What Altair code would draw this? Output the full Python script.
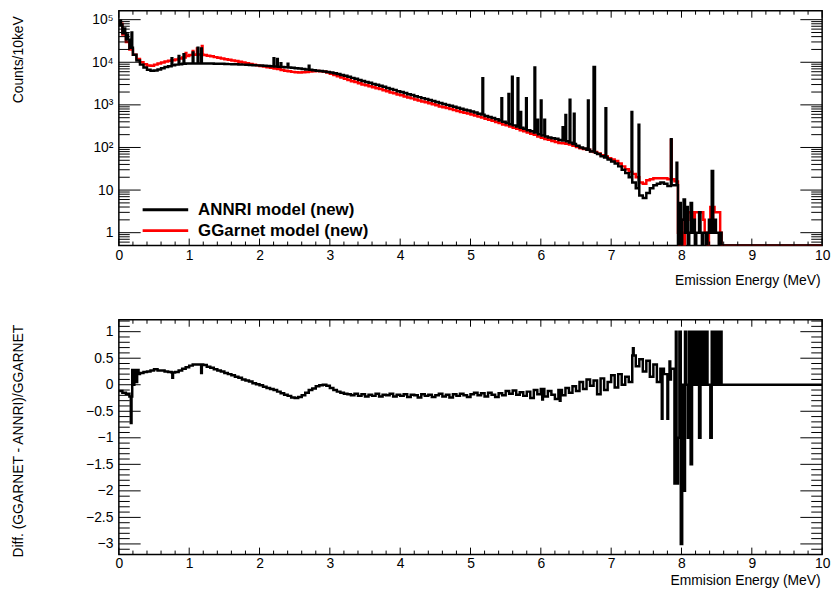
import altair as alt
import numpy as np
import pandas as pd

# ---------------------------------------------------------------------------
# Emission spectra (counts per 10 keV) for two gamma models, and their
# relative difference (GGARNET - ANNRI) / GGARNET.
# Continuum: 0.05 MeV bins from 0 to 7.95 MeV, then 0.02 MeV bins to 8.61 MeV.
# Discrete lines: narrow 10 keV bins laid over the continuum.
# ---------------------------------------------------------------------------
GRID_STEP = 0.05
TAIL_START = 7.95
TAIL_STEP = 0.02
LINE_W = 0.01
X_MAX = 10.0

ANNRI_CONT = [
    75000, 48000, 34000, 22000, 15000, 11000, 8800, 7500, 6700, 6300,
    6400, 6800, 7200, 7700, 8100, 8500, 8800, 9000, 9200, 9300,
    9400, 9400, 9400, 9400, 9350, 9300, 9300, 9250, 9200, 9200,
    9100, 9050, 9000, 8950, 8900, 8800, 8700, 8650, 8550, 8450,
    8350, 8250, 8150, 8050, 7950, 7850, 7750, 7600, 7500, 7400,
    7250, 7100, 6950, 6800, 6650, 6500, 6350, 6200, 6050, 5900,
    5750, 5550, 5300, 5050, 4800, 4550, 4300, 4100, 3850, 3650,
    3450, 3300, 3100, 2950, 2800, 2650, 2500, 2350, 2250, 2100,
    2000, 1900, 1780, 1700, 1600, 1520, 1440, 1370, 1300, 1230,
    1170, 1100, 1050, 1000, 950, 900, 860, 810, 770, 740,
    700, 660, 620, 590, 550, 520, 490, 460, 430, 400,
    375, 350, 330, 310, 290, 275, 255, 240, 225, 205,
    190, 180, 172, 165, 160, 150, 145, 140, 130, 120,
    110, 100, 95, 88, 80, 75, 70, 62, 58, 52,
    47, 42, 36, 30, 25, 20, 15, 11, 7.5, 6.5,
    8.5, 11, 13, 14, 15, 14, 12.5, 13, 13,
]
ANNRI_TAIL = [
    0, 5, 0, 2, 6, 1, 4, 0, 1, 5, 1, 2, 0, 1, 1, 3, 1,
    0, 1, 1, 0, 1, 2, 1, 28, 1, 2, 1, 1, 0, 1, 0, 0,
]
ANNRI_LINES_E = [
    0.02, 0.08, 0.12, 0.18, 0.75, 0.85, 0.92, 1.05, 1.12, 1.17,
    2.20, 2.25, 2.30, 2.40, 2.70, 5.17, 5.44, 5.54, 5.59, 5.67,
    5.71, 5.79, 5.91, 5.95, 6.00, 6.05, 6.31, 6.35, 6.41, 6.47,
    6.67, 6.75, 6.76, 6.92, 7.29, 7.39, 7.85, 7.93,
]
ANNRI_LINES_N = [
    95000, 62000, 45000, 50000, 12500, 14000, 15500, 17000, 22000, 21000,
    12500, 12000, 9500, 9200, 8300, 4200, 1440, 1800, 4600, 4200,
    680, 1440, 7500, 450, 1260, 450, 300, 580, 1320, 620,
    1260, 7800, 7800, 830, 680, 340, 155, 44,
]

GGARNET_CONT = [
    80000, 45000, 30000, 20000, 15000, 12000, 10000, 9000, 8400, 8300,
    8800, 9300, 9900, 10400, 10800, 11200, 11600, 12200, 13000, 14000,
    14800, 15000, 15200, 15200, 14800, 14200, 13800, 13200, 12800, 12300,
    11800, 11400, 11000, 10700, 10300, 9900, 9500, 9100, 8700, 8450,
    8200, 7900, 7650, 7400, 7150, 6900, 6600, 6350, 6150, 5950,
    5800, 5750, 5800, 5900, 6050, 6150, 6200, 6150, 6050, 5750,
    5400, 5000, 4700, 4400, 4100, 3850, 3600, 3450, 3200, 3000,
    2900, 2750, 2600, 2450, 2350, 2200, 2100, 1950, 1880, 1750,
    1680, 1580, 1490, 1420, 1340, 1270, 1200, 1150, 1090, 1030,
    980, 920, 880, 840, 800, 760, 720, 680, 650, 625,
    595, 565, 530, 505, 475, 450, 425, 395, 375, 345,
    330, 310, 290, 275, 255, 240, 225, 210, 198, 180,
    168, 158, 152, 142, 135, 128, 125, 122, 118, 110,
    102, 96, 92, 88, 82, 78, 72, 66, 62, 56,
    52, 48, 42, 36, 31, 27, 24, 20, 15, 14,
    17, 18, 19, 19, 19, 19, 18, 18, 16,
]
GGARNET_TAIL = [
    1, 0, 2, 1, 0, 2, 1, 3, 3, 2, 3, 1, 3, 3, 3, 3, 3,
    3, 2, 1, 1, 0, 1, 4, 2, 4, 3, 3, 3, 3, 1, 0, 0,
]
GGARNET_LINES_E = [0.95, 1.05, 1.11, 1.18, 7.85]
GGARNET_LINES_N = [16500, 18500, 21000, 24000, 150]

DIFF_CONT = [
    -0.12, -0.15, -0.17, -0.22, 0.15, 0.20, 0.22, 0.24, 0.25, 0.27,
    0.29, 0.27, 0.27, 0.25, 0.24, 0.23, 0.24, 0.27, 0.30, 0.33,
    0.36, 0.38, 0.38, 0.38, 0.37, 0.34, 0.32, 0.29, 0.27, 0.25,
    0.22, 0.20, 0.18, 0.15, 0.13, 0.10, 0.08, 0.06, 0.03, 0.01,
    -0.01, -0.04, -0.06, -0.08, -0.10, -0.13, -0.16, -0.19, -0.21, -0.24,
    -0.25, -0.23, -0.20, -0.15, -0.10, -0.07, -0.03, -0.01, 0.00, -0.02,
    -0.06, -0.10, -0.13, -0.15, -0.17, -0.18, -0.20, -0.17, -0.21, -0.18,
    -0.22, -0.19, -0.21, -0.17, -0.22, -0.19, -0.20, -0.17, -0.22, -0.19,
    -0.21, -0.18, -0.23, -0.19, -0.20, -0.24, -0.18, -0.21, -0.19, -0.23,
    -0.20, -0.17, -0.22, -0.19, -0.24, -0.18, -0.21, -0.17, -0.20, -0.23,
    -0.18, -0.15, -0.20, -0.16, -0.22, -0.15, -0.19, -0.23, -0.16, -0.20,
    -0.12, -0.17, -0.11, -0.19, -0.14, -0.21, -0.13, -0.25, -0.10, -0.18,
    -0.08, -0.22, -0.12, -0.19, -0.27, -0.10, -0.20, -0.06, -0.15, -0.03,
    -0.12, 0.05, -0.08, 0.10, -0.02, 0.08, -0.18, 0.12, -0.10, 0.05,
    0.18, -0.05, 0.20, 0.00, 0.15, 0.05, 0.55, 0.35, 0.48, 0.25,
    0.45, 0.15, 0.38, 0.05, 0.30, 0.20, 0.10, 0.30, -1.86,
]
DIFF_TAIL = [
    -1.0, 1.0, -3.0, 0.0, -2.0, 1.0, 0.0, -1.0, 1.0, -1.5, 1.0,
    0.0, 1.0, 0.0, 1.0, -1.0, 1.0, 0.0, 1.0, 0.0, 1.0, 0.0,
    0.0, -1.0, 1.0, 0.0, 1.0, 0.0, 1.0, 0.0, 1.0, 0.0, 0.0,
]
DIFF_LINES_E = [0.17, 0.19, 0.21, 0.23, 0.25, 0.27, 0.76, 1.17, 6.02, 6.27,
                7.31, 7.72, 7.80, 7.83, 7.92]
DIFF_LINES_V = [-0.72, 0.28, 0.00, 0.28, 0.05, 0.28, 0.13, 0.22, -0.28, -0.30,
                0.69, -0.64, -0.64, 0.44, 1.00]

SERIES_NAMES = ["ANNRI model (new)", "GGarnet model (new)"]
X_TITLE_TOP = "Emission Energy (MeV)"
X_TITLE_BOTTOM = "Emmision Energy (MeV)"
Y_TITLE_TOP = "Counts/10keV"
Y_TITLE_BOTTOM = "Diff. (GGARNET - ANNRI)/GGARNET"

# ---------------------------------------------------------------------------
# styling / layout
# ---------------------------------------------------------------------------
W, H = 710, 237
FONT = "Liberation Sans"
BLACK, RED = "#000000", "#ff0000"
Y_LO, Y_HI = 0.5, 1.62e5
D_LO, D_HI = -3.2, 1.224
HIST_W = 2.5

assert len(ANNRI_CONT) == len(GGARNET_CONT) == len(DIFF_CONT) == 159
assert len(ANNRI_TAIL) == len(GGARNET_TAIL) == len(DIFF_TAIL) == 33


def hist_steps(cont, tail, line_e, line_v):
    """Step-after vertices for a histogram with variable bins and line bins."""
    lefts = [round(i * GRID_STEP, 4) for i in range(len(cont))]
    lefts += [round(TAIL_START + i * TAIL_STEP, 4) for i in range(len(tail))]
    contents = list(cont) + list(tail)
    lefts.append(round(TAIL_START + len(tail) * TAIL_STEP, 4))
    contents.append(0.0)
    lefts_a = np.array(lefts)
    contents_a = np.array(contents, dtype=float)
    pts = set(lefts)
    for e in line_e:
        pts.add(round(e, 4))
        pts.add(round(e + LINE_W, 4))
    xs = sorted(pts)
    ys = []
    for x in xs:
        v = contents_a[np.searchsorted(lefts_a, x + 1e-9, side="right") - 1]
        for e, h in zip(line_e, line_v):
            if e - 1e-9 <= x < e + LINE_W - 1e-9:
                v = h
        ys.append(float(v))
    xs.append(X_MAX)
    ys.append(ys[-1])
    return pd.DataFrame({"E": xs, "val": ys})


annri = hist_steps(ANNRI_CONT, ANNRI_TAIL, ANNRI_LINES_E, ANNRI_LINES_N)
ggarnet = hist_steps(GGARNET_CONT, GGARNET_TAIL, GGARNET_LINES_E, GGARNET_LINES_N)
diff = hist_steps(DIFF_CONT, DIFF_TAIL, DIFF_LINES_E, DIFF_LINES_V)

# empty bins sit on the lower edge of the log axis
annri["val"] = np.maximum(annri["val"], Y_LO)
ggarnet["val"] = np.maximum(ggarnet["val"], Y_LO)

XS = alt.Scale(domain=[0, X_MAX], nice=False, zero=False)
YS_LOG = alt.Scale(type="log", domain=[Y_LO, Y_HI], nice=False, clamp=True)
YS_DIFF = alt.Scale(domain=[D_LO, D_HI], nice=False, zero=False)

label_style = dict(labelFont=FONT, labelFontSize=14, labelColor="black",
                   labelFlush=False, labelOverlap=False)
title_style = dict(titleFont=FONT, titleFontSize=14, titleFontWeight="normal",
                   titleColor="black")


def x_axis(title, title_y, pad):
    return alt.Axis(values=list(range(11)), format="d", ticks=False, tickSize=0,
                    domain=False, grid=False, labelPadding=pad, title=title,
                    titleAnchor="end", titleAlign="right", titleBaseline="alphabetic",
                    titleX=W - 2, titleY=title_y, **label_style, **title_style)


def y_axis(title, values, title_y, label_expr=None, fmt=None):
    kw = dict(values=values, ticks=False, tickSize=0, domain=False, grid=False,
              labelPadding=6, title=title, titleAngle=270, titleAlign="center",
              titleBaseline="middle", titleX=-101, titleY=title_y)
    if label_expr:
        kw["labelExpr"] = label_expr
    if fmt:
        kw["format"] = fmt
    return alt.Axis(**kw, **label_style, **title_style)


def hist_layer(df, color, yscale, xaxis, yaxis):
    return alt.Chart(df).mark_line(interpolate="step-after", color=color,
                                   strokeWidth=HIST_W, clip=True).encode(
        x=alt.X("E:Q", scale=XS, axis=xaxis),
        y=alt.Y("val:Q", scale=yscale, axis=yaxis),
    )


def tick_layers(yscale, y_major, y_minor, xaxis, yaxis):
    """Inward ticks on all four sides of the frame."""
    layers = []
    xmaj = np.arange(0, 11, 1.0)
    xmin = np.array([v for v in np.round(np.arange(0, 10.001, 0.2), 2) if v % 1 != 0])
    for vals, ln in ((xmaj, 7), (xmin, 4)):
        d = pd.DataFrame({"E": vals})
        for y0, y1 in ((H, H - ln), (0, ln)):
            layers.append(alt.Chart(d).mark_rule(color="black", strokeWidth=1).encode(
                x=alt.X("E:Q", scale=XS, axis=xaxis),
                y=alt.value(y0), y2=alt.value(y1)))
    for vals, ln in ((y_major, 22), (y_minor, 11)):
        d = pd.DataFrame({"val": vals})
        for x0, x1 in ((0, ln), (W, W - ln)):
            layers.append(alt.Chart(d).mark_rule(color="black", strokeWidth=1).encode(
                y=alt.Y("val:Q", scale=yscale, axis=yaxis),
                x=alt.value(x0), x2=alt.value(x1)))
    return layers


# ---- top panel: spectra ----------------------------------------------------
log_major = [1, 10, 100, 1000, 1e4, 1e5]
log_minor = [0.6, 0.7, 0.8, 0.9] + [k * 10 ** n for n in range(0, 5) for k in range(2, 10)]
log_labels = ("datum.value < 5 ? '1' : datum.value < 50 ? '10' : datum.value < 500 ? '10\u00b2' : "
              "datum.value < 5000 ? '10\u00b3' : datum.value < 50000 ? '10\u2074' : '10\u2075'")

XAX_TOP = x_axis(X_TITLE_TOP, 39, 3)
YAX_TOP = y_axis(Y_TITLE_TOP, log_major, 49, label_expr=log_labels)

red_hist = hist_layer(ggarnet, RED, YS_LOG, XAX_TOP, YAX_TOP)
black_hist = hist_layer(annri, BLACK, YS_LOG, XAX_TOP, YAX_TOP)

legend_layers = []
for i, (name, col) in enumerate(zip(SERIES_NAMES, [BLACK, RED])):
    d = pd.DataFrame({"label": [name]})
    yy = 201 + 21 * i
    legend_layers.append(alt.Chart(d).mark_rule(color=col, strokeWidth=3).encode(
        x=alt.value(24), x2=alt.value(70), y=alt.value(yy)))
    legend_layers.append(alt.Chart(d).mark_text(
        align="left", baseline="middle", font=FONT, fontSize=17, fontWeight="bold",
        color="black").encode(text="label:N", x=alt.value(80), y=alt.value(yy)))

top = alt.layer(red_hist, black_hist,
                *tick_layers(YS_LOG, log_major, log_minor, XAX_TOP, YAX_TOP),
                *legend_layers).properties(width=W, height=H)

# ---- bottom panel: relative difference -------------------------------------
d_major = [-3, -2.5, -2, -1.5, -1, -0.5, 0, 0.5, 1]
d_minor = [v for v in np.round(np.arange(-3.2, 1.201, 0.1), 2) if abs(v * 2 - round(v * 2)) > 1e-6]

XAX_BOT = x_axis(X_TITLE_BOTTOM, 30, 2)
YAX_BOT = y_axis(Y_TITLE_BOTTOM, d_major, 122, fmt="~g")

diff_hist = hist_layer(diff, BLACK, YS_DIFF, XAX_BOT, YAX_BOT)
bottom = alt.layer(diff_hist,
                   *tick_layers(YS_DIFF, d_major, d_minor, XAX_BOT, YAX_BOT)).properties(
    width=W, height=H)

chart = alt.vconcat(top, bottom, spacing=75, bounds="flush").properties(
    padding={"left": 11, "top": 6, "right": 6, "bottom": 4},
    background="white",
).configure_view(stroke="black", strokeWidth=1.5)

chart.save("out.html", embed_options={"renderer": "svg", "actions": False})
